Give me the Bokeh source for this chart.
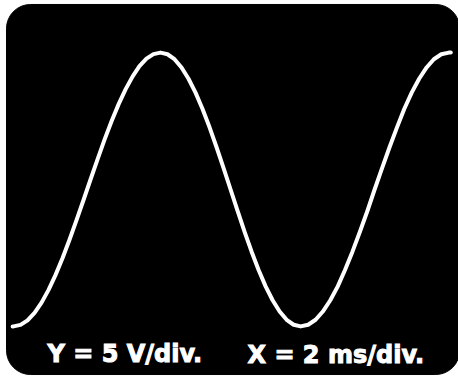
from bokeh.plotting import figure
from bokeh.models import Range1d
from bokeh.core.properties import value
from bokeh.embed import file_html
from bokeh.resources import INLINE

# Scope settings (labels drawn on the screen)
y_scale_label = "Y = 5 V/div."
x_scale_label = "X = 2 ms/div."

# Screen size: 10 horizontal divisions of 2 ms, 8 vertical divisions of 5 V
screen_ms = 20.0
screen_volts = 40.0

# Trace samples: time (ms) and voltage (V)
trace_ms = [
    0.27, 0.31, 0.62, 0.93, 1.24, 1.55, 1.86, 2.17, 2.48, 2.79, 3.10, 3.41,
    3.72, 4.03, 4.34, 4.65, 4.96, 5.27, 5.58, 5.88, 6.19, 6.50, 6.81,
    7.12, 7.43, 7.74, 8.05, 8.36, 8.67, 8.98, 9.29, 9.60, 9.91,
    10.22, 10.53, 10.84, 11.15, 11.46, 11.77, 12.08, 12.39, 12.70, 13.01,
    13.34, 13.67, 13.99, 14.32, 14.65, 14.97, 15.30, 15.63, 15.96, 16.28,
    16.61, 16.94, 17.27, 17.59, 17.92, 18.25, 18.58, 18.90, 19.23, 19.56,
    19.65,
]
trace_volts = [
    -14.8, -14.8, -14.63, -14.14, -13.33, -12.23, -10.85, -9.23, -7.40, -5.41,
    -3.29, -1.11, 1.11, 3.29, 5.41, 7.40, 9.23, 10.85, 12.23, 13.33, 14.14,
    14.63, 14.8,
    14.62, 14.08, 13.19, 11.97, 10.47, 8.70, 6.72, 4.57, 2.32, 0.0,
    -2.32, -4.57, -6.72, -8.70, -10.47, -11.97, -13.19, -14.08, -14.62, -14.8,
    -14.62, -14.08, -13.19, -11.97, -10.47, -8.70, -6.72, -4.57, -2.32, 0.0,
    2.32, 4.57, 6.72, 8.70, 10.47, 11.97, 13.19, 14.08, 14.62, 14.8,
    14.8,
]

half_v = screen_volts / 2

p = figure(
    width=458, height=378,
    x_range=Range1d(-0.2655, 19.99),
    y_range=Range1d(-20.43, 20.43),
    output_backend="svg", toolbar_location=None,
    min_border=0,
)
p.axis.visible = False
p.grid.visible = False
p.outline_line_color = None
p.background_fill_color = "white"
p.border_fill_color = "white"

# Scope screen with rounded corners
p.quad(left=[0], right=[screen_ms + 0.04], bottom=[-half_v], top=[half_v],
       fill_color="black", line_color="black", line_width=1,
       border_radius=24)

# The trace
p.line(trace_ms, trace_volts, line_color="white", line_width=4,
       line_join="round", line_cap="round")

# Scale labels
label_style = dict(
    text_font=value("DejaVu Sans"), text_font_style="bold",
    text_font_size="24px", text_color="white", text_outline_color="white",
    text_align="left", text_baseline="alphabetic",
)
p.text(x=[1.81], y=[-17.73], text=[y_scale_label], **label_style)
p.text(x=[10.66], y=[-17.84], text=[x_scale_label], **label_style)

open("out.html", "w").write(file_html(p, INLINE))
